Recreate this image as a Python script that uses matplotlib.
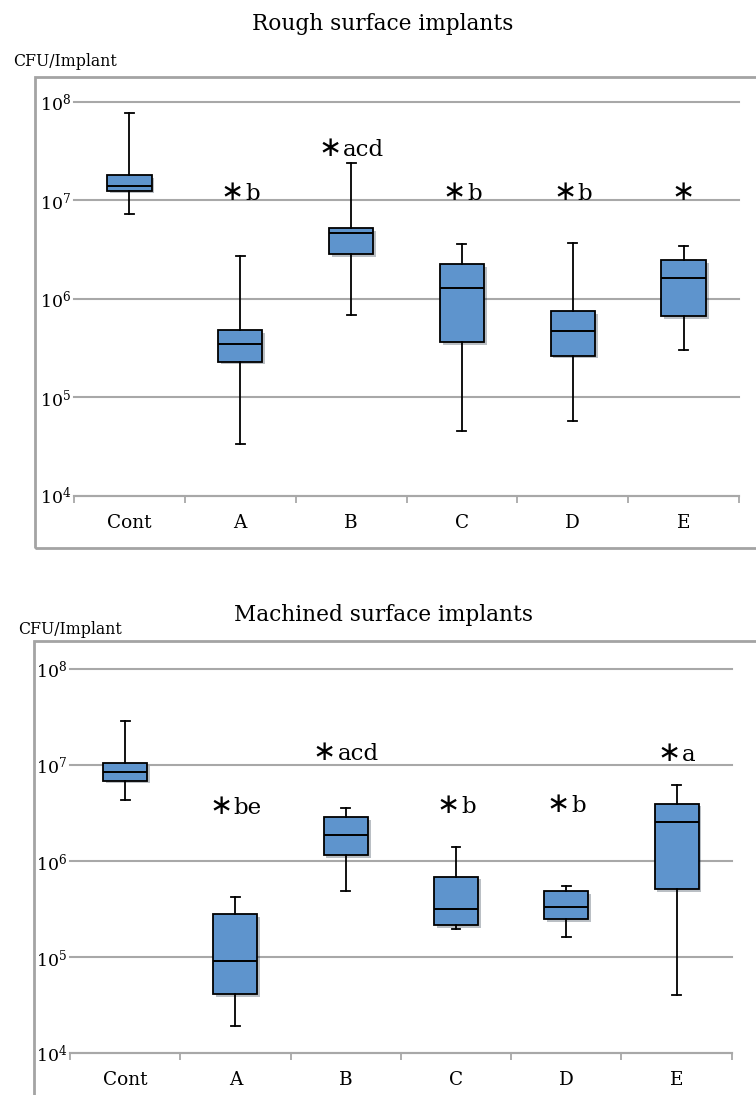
import matplotlib
matplotlib.use("Agg")
import matplotlib.pyplot as plt
import matplotlib.patheffects as pe
from matplotlib.patches import Rectangle
from matplotlib.offsetbox import TextArea, HPacker, AnnotationBbox
from matplotlib.ticker import LogLocator, LogFormatterMathtext, NullLocator, FixedLocator
import numpy as np

plt.rcParams['font.family'] = ['DejaVu Serif', 'DejaVu Sans']
plt.rcParams['mathtext.fontset'] = 'custom'
plt.rcParams['mathtext.rm'] = 'DejaVu Serif'
plt.rcParams['mathtext.it'] = 'DejaVu Serif:italic'
plt.rcParams['mathtext.bf'] = 'DejaVu Serif:bold'

groups = ["Cont", "A", "B", "C", "D", "E"]

# rough surface implants (CFU/implant)
rough_whislo = [7.3e6, 3.35e4, 6.8e5, 4.5e4, 5.8e4, 3.0e5]
rough_q1 = [1.25e7, 2.3e5, 2.86e6, 3.6e5, 2.65e5, 6.6e5]
rough_med = [1.38e7, 3.46e5, 4.64e6, 1.29e6, 4.75e5, 1.64e6]
rough_q3 = [1.8e7, 4.8e5, 5.2e6, 2.25e6, 7.5e5, 2.47e6]
rough_whishi = [7.7e7, 2.73e6, 2.39e7, 3.56e6, 3.72e6, 3.39e6]
rough_marks = ["", "b", "acd", "b", "b", ""]
rough_star = [False, True, True, True, True, True]

# machined surface implants (CFU/implant)
mach_whislo = [4.28e6, 1.92e4, 4.88e5, 1.95e5, 1.61e5, 4.04e4]
mach_q1 = [6.84e6, 4.14e4, 1.15e6, 2.16e5, 2.49e5, 5.12e5]
mach_med = [8.43e6, 9.18e4, 1.85e6, 3.19e5, 3.30e5, 2.56e6]
mach_q3 = [1.05e7, 2.81e5, 2.85e6, 6.87e5, 4.84e5, 3.95e6]
mach_whishi = [2.88e7, 4.19e5, 3.56e6, 1.41e6, 5.5e5, 6.17e6]
mach_marks = ["", "be", "acd", "b", "b", "a"]
mach_star = [False, True, True, True, True, True]

# heights of the significance labels (data units)
rough_mark_y = [1, 1.2e7, 3.4e7, 1.2e7, 1.2e7, 1.2e7]
mach_mark_y = [1, 3.7e6, 1.37e7, 3.8e6, 3.95e6, 1.32e7]

W, H = 756, 1095
BLUE = '#5E94CD'
GRID = '#A8A8A8'
FRAME = '#A4A4A4'

fig = plt.figure(figsize=(W / 100, H / 100), dpi=100)


def fx(px):
    return px / W


def fy(py):
    return 1 - py / H


def panel(rect, whislo, q1, med, q3, whishi, marks, stars, mark_y):
    ax = fig.add_axes(rect)
    stats = []
    for i in range(len(groups)):
        stats.append(dict(whislo=whislo[i], q1=q1[i], med=med[i], q3=q3[i],
                          whishi=whishi[i], fliers=[], label=groups[i]))
    bp = ax.bxp(stats, positions=range(len(groups)), widths=0.4,
                patch_artist=True, showfliers=False,
                boxprops=dict(facecolor=BLUE, edgecolor='black', linewidth=1.3),
                medianprops=dict(color='black', linewidth=1.4),
                whiskerprops=dict(color='black', linewidth=1.3),
                capprops=dict(color='black', linewidth=1.3),
                capwidths=0.08)
    for b in bp['boxes']:
        b.set_path_effects([pe.SimplePatchShadow(offset=(2, -2), alpha=0.3),
                            pe.Normal()])
        b.set_zorder(3)
    for k in ('whiskers', 'caps', 'medians'):
        for l in bp[k]:
            l.set_zorder(4)

    ax.set_yscale('log')
    ax.set_ylim(1e4, 1e8)
    ax.set_xlim(-0.5, len(groups) - 0.5)
    ax.yaxis.set_major_locator(LogLocator(base=10, numticks=10))
    ax.yaxis.set_major_formatter(LogFormatterMathtext())
    ax.yaxis.set_minor_locator(NullLocator())
    ax.grid(axis='y', color=GRID, linewidth=1.5, zorder=1)
    ax.set_axisbelow(True)
    for g in ax.get_ygridlines():
        g.set_clip_on(False)

    ax.set_xticks(range(len(groups)))
    ax.set_xticklabels(groups, fontsize=13.3)
    ax.xaxis.set_minor_locator(FixedLocator(np.arange(-0.5, len(groups), 1.0)))
    ax.tick_params(axis='x', which='major', length=0, pad=13)
    ax.tick_params(axis='x', which='minor', length=5, width=1.3, color=GRID,
                   direction='out')
    ax.tick_params(axis='y', length=0, pad=2, labelsize=12.5)

    for s in ('left', 'right', 'top'):
        ax.spines[s].set_visible(False)
    ax.spines['bottom'].set_color(GRID)
    ax.spines['bottom'].set_linewidth(1.5)

    for i in range(len(groups)):
        if not stars[i]:
            continue
        parts = [TextArea("∗", textprops=dict(fontsize=20, family='DejaVu Sans'))]
        if marks[i]:
            parts.append(TextArea(marks[i], textprops=dict(fontsize=16.5)))
        box = HPacker(children=parts, align='baseline', pad=0, sep=1)
        ab = AnnotationBbox(box, (i, mark_y[i]), frameon=False,
                            box_alignment=(0.5, 0.5), pad=0)
        ax.add_artist(ab)
    return ax


panel([fx(74), fy(495.7), fx(739) - fx(74), fy(101.7) - fy(495.7)],
      rough_whislo, rough_q1, rough_med, rough_q3, rough_whishi,
      rough_marks, rough_star, rough_mark_y)
panel([fx(70), fy(1053.3), fx(731.7) - fx(70), fy(668.7) - fy(1053.3)],
      mach_whislo, mach_q1, mach_med, mach_q3, mach_whishi,
      mach_marks, mach_star, mach_mark_y)

# outer chart frames
fig.add_artist(Rectangle((fx(35), fy(547.7)), fx(800) - fx(35), fy(76.7) - fy(547.7),
                         transform=fig.transFigure, fill=False,
                         edgecolor=FRAME, linewidth=2))
fig.add_artist(Rectangle((fx(34), fy(1200)), fx(800) - fx(34), fy(641) - fy(1200),
                         transform=fig.transFigure, fill=False,
                         edgecolor=FRAME, linewidth=2))

fig.text(fx(383), fy(24), "Rough surface implants", ha='center', va='center', fontsize=15.6)
fig.text(fx(383), fy(615), "Machined surface implants", ha='center', va='center', fontsize=15.6)
fig.text(fx(13), fy(62), "CFU/Implant", ha='left', va='center', fontsize=11.3)
fig.text(fx(18), fy(629), "CFU/Implant", ha='left', va='center', fontsize=11.3)

fig.savefig("out.png", dpi=100)
